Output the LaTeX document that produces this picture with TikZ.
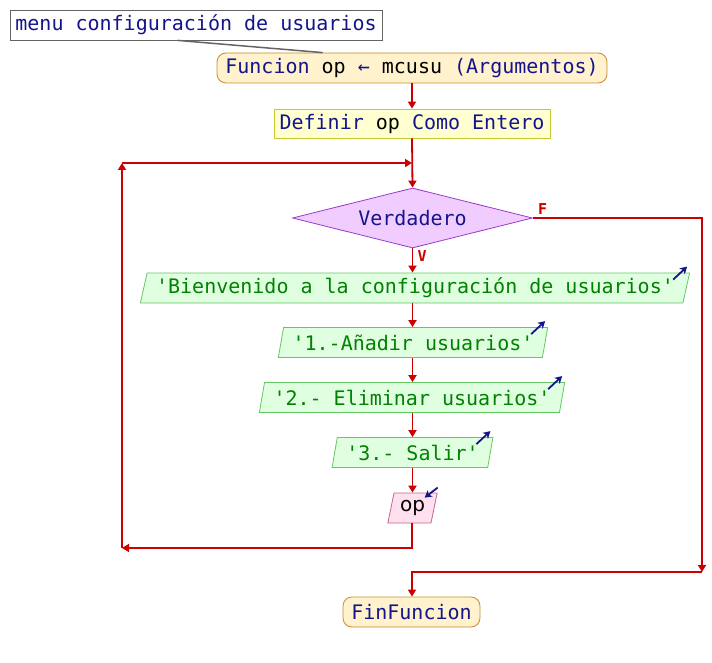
\documentclass[tikz,border=0pt]{standalone}
\usepackage{fontspec}
\setmainfont{DejaVu Sans Mono}
\newfontfamily\varfont{DejaVu Sans}
\usetikzlibrary{shapes.geometric,arrows.meta,calc}
\definecolor{flowred}{RGB}{204,0,0}
\definecolor{kwblue}{RGB}{20,20,140}
\definecolor{strgreen}{RGB}{0,130,0}
\definecolor{iofill}{RGB}{224,255,224}
\definecolor{iodraw}{RGB}{100,200,100}
\definecolor{diafill}{RGB}{240,204,255}
\definecolor{diadraw}{RGB}{150,60,200}
\definecolor{infill}{RGB}{255,224,238}
\definecolor{indraw}{RGB}{200,100,140}
\definecolor{termfill}{RGB}{255,242,204}
\definecolor{termdraw}{RGB}{200,140,50}
\definecolor{deffill}{RGB}{255,255,208}
\definecolor{defdraw}{RGB}{200,200,50}
\definecolor{cmtdraw}{RGB}{100,100,100}
\tikzset{
  txt/.style={font=\fontsize{20}{22}\selectfont},
  cmtbox/.style={txt, draw=cmtdraw, fill=white, line width=0.8pt, text=kwblue, minimum width=372, minimum height=30, inner sep=0},
  termbox/.style={txt, draw=termdraw, fill=termfill, line width=0.8pt, rounded corners=9pt, text=kwblue, minimum height=30, inner sep=0},
  defbox/.style={txt, draw=defdraw, fill=deffill, line width=0.8pt, text=kwblue, minimum height=29, inner sep=0},
  diabox/.style={txt, diamond, aspect=4, draw=diadraw, fill=diafill, line width=0.8pt, text=kwblue, minimum width=240, minimum height=60, inner sep=0},
  iobox/.style={txt, trapezium, trapezium left angle=71.6, trapezium right angle=108.4, draw=iodraw, fill=iofill, line width=0.8pt, text=strgreen, minimum height=30, inner xsep=9, inner ysep=0, trapezium stretches body},
  inbox/.style={txt, trapezium, trapezium left angle=68, trapezium right angle=112, draw=indraw, fill=infill, line width=0.8pt, text=black, minimum height=30, inner xsep=6, inner ysep=0, trapezium stretches body},
  flow/.style={draw=flowred, line width=1.8pt},
  flowarrow/.style={flow, -{Triangle[width=8pt,length=7pt]}},
  outmark/.style={draw=kwblue, line width=1.8pt, -{Stealth[width=8pt,length=7pt,inset=2pt]}},
  lbl/.style={text=flowred, font=\fontsize{15}{16}\selectfont\bfseries, inner sep=0},
  cmtline/.style={draw=cmtdraw, line width=1.5pt}
}
\newcommand{\q}{\textquotesingle}
\begin{document}
\begin{tikzpicture}[x=1pt,y=-1pt]
\useasboundingbox (0,0) rectangle (712,663);
\fill[white] (0,0) rectangle (712,663);

\coordinate (lpA) at (412,548);
\coordinate (lpB) at (122,548);
\coordinate (lpC) at (122,163);
\coordinate (lpD) at (412,163);
\coordinate (fA) at (702,218);
\coordinate (fB) at (702,572);
\coordinate (fC) at (412,572);

\node[cmtbox] (cmt) at (196,25) {menu configuración de usuarios};
\node[termbox, minimum width=390] (fun) at (412,68) {Funcion {\color{black}op} ← {\color{black}mcusu} (Argumentos)};
\draw[cmtline] ($(cmt.south west)+(168,0)$) -- ($(fun.north west)+(106,0)$);
\node[defbox, minimum width=276] (def) at (412,123.5) {Definir {\color{black}op} Como Entero};
\node[diabox] (dia) at (412.5,218) {Verdadero};
\node[iobox] (bien) at (415,288) {\q Bienvenido a la configuración de usuarios\q};
\node[iobox] (a1) at (413,342.5) {\q 1.-Añadir usuarios\q};
\node[iobox] (a2) at (412,397.5) {\q 2.- Eliminar usuarios\q};
\node[iobox] (a3) at (412.5,452.5) {\q 3.- Salir\q};
\node[inbox] (op) at (412.5,508) {\varfont op};
\node[termbox, minimum width=137] (fin) at (411.5,612) {FinFuncion};

% connectors
\draw[flowarrow] (fun.south -| def.north) -- (def.north);
\draw[flowarrow] (def.south) -- (dia.north);
\draw[flowarrow] (dia.south) -- (dia.south |- bien.north);
\draw[flowarrow] (bien.south -| dia.south) -- (a1.north -| dia.south);
\draw[flowarrow] (a1.south -| dia.south) -- (a2.north -| dia.south);
\draw[flowarrow] (a2.south -| dia.south) -- (a3.north -| dia.south);
\draw[flowarrow] (a3.south -| dia.south) -- (op.north -| dia.south);
\draw[flowarrow] (op.south -| lpA) -- (lpA) -- (lpB);
\draw[flowarrow] (lpB) -- (lpC);
\draw[flowarrow] (lpC) -- (lpD);
\draw[flowarrow] (dia.east) -- (fA) -- (fB);
\draw[flowarrow] (fB) -- (fC) -- (fin.north -| fC);

\node[lbl, anchor=south west] (flbl) at ($(dia.east)+(5,-3)$) {F};
\node[lbl, anchor=north west] (vlbl) at ($(dia.south)+(5,2)$) {V};

% output / input marks
\draw[outmark] ($(bien.top right corner)+(-17,7)$) -- ($(bien.top right corner)+(-3,-6)$);
\draw[outmark] ($(a1.top right corner)+(-17,7)$) -- ($(a1.top right corner)+(-3,-6)$);
\draw[outmark] ($(a2.top right corner)+(-17,7)$) -- ($(a2.top right corner)+(-3,-6)$);
\draw[outmark] ($(a3.top right corner)+(-17,7)$) -- ($(a3.top right corner)+(-3,-6)$);
\draw[outmark] ($(op.top right corner)+(0,-5)$) -- ($(op.top right corner)+(-13,5)$);
\end{tikzpicture}
\end{document}
